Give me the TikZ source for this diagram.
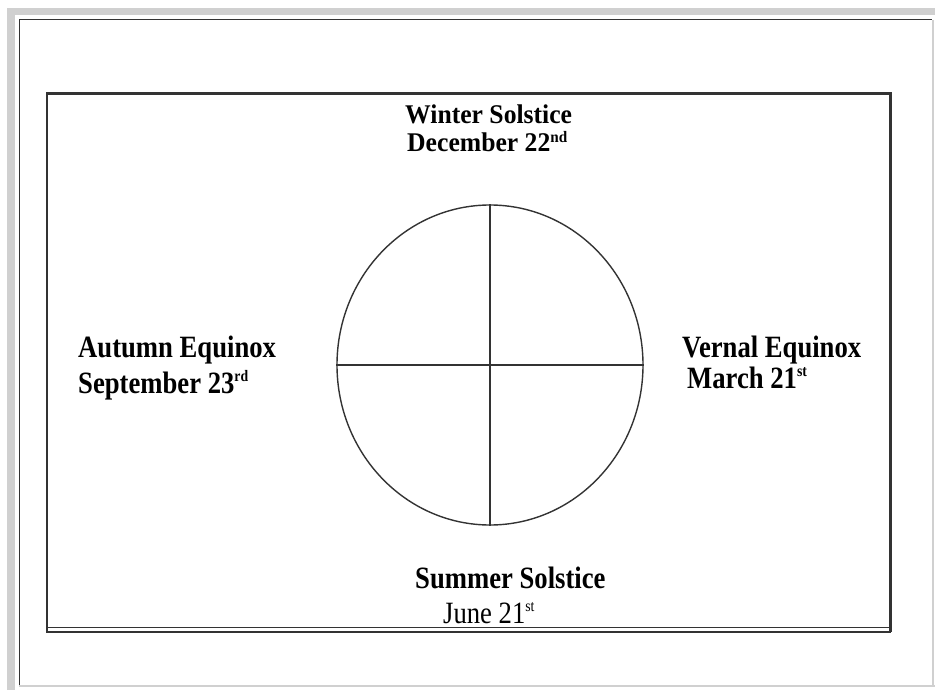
\documentclass[tikz,border=0pt]{standalone}
\usepackage{graphicx}
\usepackage{fontspec}
\setmainfont{Liberation Serif}
\usetikzlibrary{shapes.geometric}
\definecolor{framegray}{HTML}{D0D0D0}
\definecolor{darkline}{HTML}{333333}
\newcommand\mysup[1]{\raisebox{0.8ex}{\fontsize{16}{16}\selectfont #1}}
\newcommand\cond[1]{\scalebox{0.86}[1]{#1}}
\newcommand\condw[1]{\scalebox{0.95}[1]{#1}}
\tikzset{
  title/.style={anchor=base west,inner sep=0pt,font=\fontsize{31}{33}\selectfont\bfseries},
  smalltitle/.style={anchor=base west,inner sep=0pt,font=\fontsize{27}{29}\selectfont\bfseries},
  datebold/.style={anchor=base west,inner sep=0pt,font=\fontsize{31}{33}\selectfont\bfseries},
  dateplain/.style={anchor=base west,inner sep=0pt,font=\fontsize{31}{33}\selectfont},
  orbit/.style={draw=darkline,line width=1.4pt,ellipse,inner sep=0pt,minimum width=306pt,minimum height=320pt},
  axis/.style={draw=darkline,line width=1.4pt}
}
\begin{document}
\begin{tikzpicture}[x=1pt,y=-1pt]
\useasboundingbox (0,0) rectangle (935,690);
% outer gray frame
\fill[framegray] (7,8) rectangle (15,690);
\fill[framegray] (7,8) rectangle (935,15);
\draw[darkline,line width=1pt] (19,686) -- (19,20) -- (932,20);
\draw[framegray,line width=1.5pt] (933,20) -- (933,686);
\draw[framegray,line width=1.5pt] (19,686) -- (935,686);
% inner box
\draw[darkline,line width=1.2pt] (47,94) -- (47,632);
\draw[darkline,line width=3pt] (46,94) -- (890,94) -- (890,632);
\draw[darkline,line width=1pt] (47,627) -- (890,627);
\draw[darkline,line width=2.5pt] (46,632) -- (891,632);
% orbit and axes
\node[orbit] (orb) at (490,365) {};
\draw[axis] (orb.north) -- (orb.south);
\draw[axis] (orb.west) -- (orb.east);
% labels
\node[smalltitle] (winter) at (405,124) {\condw{Winter Solstice}};
\node[smalltitle] (winterdate) at (407,152) {\condw{December 22\mysup{nd}}};
\node[title] (autumn) at (78,357) {\cond{Autumn Equinox}};
\node[datebold] (autumndate) at (78,393) {\cond{September 23\mysup{rd}}};
\node[title] (vernal) at (682,357) {\cond{Vernal Equinox}};
\node[datebold] (vernaldate) at (687,388) {\cond{March 21\mysup{st}}};
\node[title] (summer) at (415,588) {\cond{Summer Solstice}};
\node[dateplain] (summerdate) at (443,623) {\cond{June 21\mysup{st}}};
\end{tikzpicture}
\end{document}
